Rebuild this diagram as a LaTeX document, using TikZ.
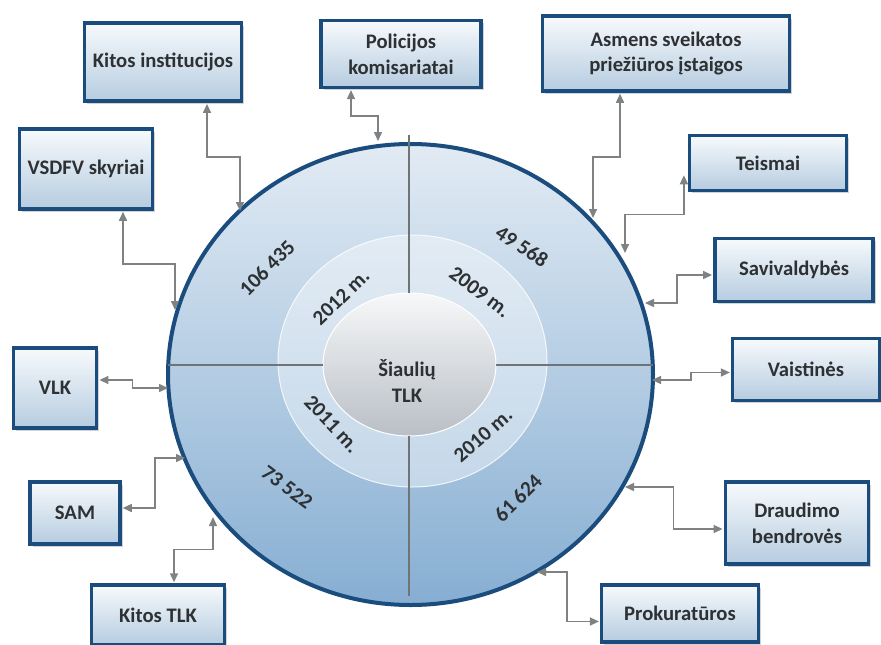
\documentclass[tikz,border=0pt]{standalone}
\usepackage{fontspec}
\setmainfont{Carlito}
\usepackage{tikz}
\usetikzlibrary{arrows.meta,calc,shadows}
\definecolor{tlkblue}{HTML}{1B4C7E}
\definecolor{tlkink}{HTML}{2E3133}
\definecolor{tlkgray}{HTML}{7F8283}
\definecolor{tlkline}{HTML}{6F7476}
\definecolor{boxtop}{HTML}{F7FAFC}
\definecolor{boxbot}{HTML}{B6CCE0}
\definecolor{ringtop}{HTML}{E2EBF4}
\definecolor{ringbot}{HTML}{86AED2}
\definecolor{coretop}{HTML}{F7F8F9}
\definecolor{corebot}{HTML}{B9BFC6}

\begin{document}
\begin{tikzpicture}[
  x=0.6pt, y=-0.6pt,
  inst/.style    = {rectangle, draw=tlkblue, line width=2.1pt,
                    top color=boxtop, bottom color=boxbot,
                    text=tlkink, align=center, inner sep=2pt,
                    font=\fontsize{12.4}{15.4}\selectfont\bfseries,
                    drop shadow={shadow xshift=1.6pt, shadow yshift=-1.6pt,
                                 opacity=0.35}},
  flow/.style    = {{Triangle[length=5.4pt,width=4.8pt]}-{Triangle[length=5.4pt,width=4.8pt]},
                    draw=tlkgray, fill=none, line width=0.9pt},
  divide/.style  = {draw=tlkline, line width=1.2pt},
  yearlab/.style = {text=tlkink, inner sep=0pt,
                    font=\fontsize{12.6}{15}\selectfont\bfseries},
]
\useasboundingbox (0,0) rectangle (881,644);
% rings
\shade[top color=ringtop, bottom color=ringbot]
  (410.5,374.5) ellipse [x radius=242.5, y radius=230.5];
\fill[white, opacity=0.4] (412.5,361) ellipse [x radius=134.5, y radius=126];
\draw[white, line width=0.6pt, opacity=0.8] (412.5,361) ellipse [x radius=134.5, y radius=126];
\shade[top color=coretop, bottom color=corebot, draw=white, line width=0.6pt]
  (409.5,364.5) ellipse [x radius=86.5, y radius=71.5];
\draw[tlkblue, line width=2.4pt]
  (410.5,374.5) ellipse [x radius=242.5, y radius=230.5];
\draw[divide] (168,365) -- (323,365);
\draw[divide] (496,365) -- (653,365);
\draw[divide] (409,135) -- (409,293);
\draw[divide] (409,436) -- (409,596);
% centre and ring texts
\node[yearlab, align=center, font=\fontsize{12.4}{15.6}\selectfont\bfseries]
  (tlk) at (407,381) {Šiaulių\\TLK};
\node[yearlab, rotate=44]  (y12) at (341,297) {2012 m.};
\node[yearlab, rotate=-37] (y09) at (480,292) {2009 m.};
\node[yearlab, rotate=-47] (y11) at (332,424) {2011 m.};
\node[yearlab, rotate=41]  (y10) at (483,435) {2010 m.};
\node[yearlab, rotate=45]  (n12) at (267,268) {106 435};
\node[yearlab, rotate=-33] (n09) at (522,246) {49 568};
\node[yearlab, rotate=-37] (n11) at (287,487) {73 522};
\node[yearlab, rotate=45]  (n10) at (518,498) {61 624};
% institutions
\node[inst, minimum width=94pt, minimum height=47pt] (kin) at (163,62)    {Kitos institucijos};
\node[inst, minimum width=96pt, minimum height=40pt] (pol) at (401,54)    {Policijos\\komisariatai};
\node[inst, minimum width=148pt, minimum height=45pt] (asp) at (666,53.5) {Asmens sveikatos\\priežiūros įstaigos};
\node[inst, minimum width=80pt, minimum height=48pt] (vsd) at (86,169)    {VSDFV skyriai};
\node[inst, minimum width=94pt, minimum height=33pt] (tei) at (768,163)   {Teismai};
\node[inst, minimum width=95pt, minimum height=38pt] (sav) at (794,270)   {Savivaldybės};
\node[inst, minimum width=50pt, minimum height=48pt] (vlk) at (55,388)    {VLK};
\node[inst, minimum width=88pt, minimum height=37pt] (vai) at (806,369.5) {Vaistinės};
\node[inst, minimum width=54pt, minimum height=37pt] (sam) at (75,513)    {SAM};
\node[inst, minimum width=86pt, minimum height=49pt] (dra) at (797,523)   {Draudimo\\bendrovės};
\node[inst, minimum width=80pt, minimum height=36pt] (ktl) at (158,615)   {Kitos TLK};
\node[inst, minimum width=94pt, minimum height=34pt] (pro) at (680,613.5) {Prokuratūros};
% points on the outer ring
\coordinate (c1)  at (240,211);
\coordinate (c2)  at (378,141);
\coordinate (c3)  at (175,310);
\coordinate (c4)  at (593,218);
\coordinate (c5)  at (625,253);
\coordinate (c6)  at (645,303);
\coordinate (c7)  at (168,388);
\coordinate (c8)  at (652,380);
\coordinate (c9)  at (185,458);
\coordinate (c10) at (213,517);
\coordinate (c11) at (625,487);
\coordinate (c12) at (537,572);
% connectors
\draw[flow] ($(kin.south)+(44,1)$) -- ++(0,53) -| (c1);
\draw[flow] ($(pol.south)+(-50,1)$) -- ++(0,26) -| (c2);
\draw[flow] ($(vsd.south)+(37,1)$) -- ++(0,52) -| (c3);
\draw[flow] ($(asp.south)+(-46,1)$) -- ++(0,63) -| (c4);
\draw[flow] ($(tei.south west)+(-4,-17)$) -- ++(0,39) -| (c5);
\draw[flow] ($(sav.west)+(-1,5)$) -- ++(-35,0) |- (c6);
\draw[flow] ($(vlk.east)+(1,-8)$) -- ++(33,0) |- (c7);
\draw[flow] ($(vai.west)+(-1,3)$) -- ++(-39,0) |- (c8);
\draw[flow] ($(sam.east)+(1,-5)$) -- ++(32,0) |- (c9);
\draw[flow] ($(ktl.north)+(16,-1)$) -- ++(0,-33) -| (c10);
\draw[flow] ($(dra.west)+(-1,6)$) -- ++(-49,0) |- (c11);
\draw[flow] ($(pro.west)+(-1,8)$) -- ++(-32,0) |- (c12);
\end{tikzpicture}
\end{document}
